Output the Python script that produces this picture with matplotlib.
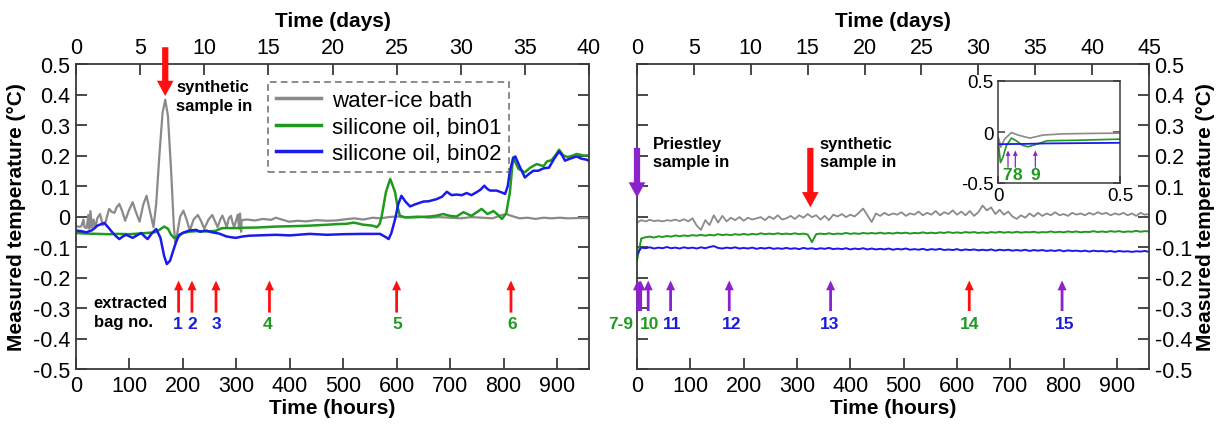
import numpy as np
import matplotlib
matplotlib.use("Agg")
import matplotlib.pyplot as plt

plt.rcParams['font.family'] = ['Liberation Sans', 'DejaVu Sans']

# ---------------- data: left panel (hours, °C) ----------------
gray_left_h = [0, 5, 10, 14, 16, 20, 23, 25, 27, 30, 33, 36, 40, 45, 50, 55, 62, 67, 72, 76, 81, 86, 92, 99,
               106, 112, 119, 126, 132, 138, 145, 150, 156, 162, 167, 172, 178, 183, 186, 190, 195, 201, 207,
               213, 220, 228, 234, 240, 248, 255, 260, 265, 270, 274, 278, 282, 286, 290, 293, 296, 300, 303,
               305, 307, 309, 310, 320, 335, 350, 365, 374, 385, 399, 415, 430, 450, 470, 487, 500, 520, 538,
               555, 570, 585, 600, 620, 640, 660, 680, 700, 720, 740, 760, 780, 795, 805, 815, 830, 845, 860,
               875, 890, 905, 920, 940, 960]
gray_left_t = [-0.030, -0.034, -0.032, -0.010, -0.035, -0.038, 0.005, -0.040, 0.018, -0.036, -0.010, -0.038,
               -0.005, 0.008, -0.028, -0.020, 0.025, 0.015, 0.012, 0.030, 0.041, 0.020, -0.014, 0.020, 0.047,
               0.015, -0.017, 0.040, 0.068, 0.020, -0.035, 0.040, 0.200, 0.340, 0.383, 0.330, 0.150, -0.030,
               -0.090, -0.050, 0.000, 0.019, -0.010, -0.046, -0.010, 0.005, -0.015, -0.040, -0.010, 0.005,
               -0.015, -0.035, -0.010, 0.003, -0.015, -0.035, -0.005, 0.002, -0.020, -0.035, -0.010, 0.006,
               -0.040, 0.010, -0.050, -0.012, -0.010, -0.013, -0.008, -0.011, -0.004, -0.010, -0.017, -0.014,
               -0.016, -0.012, -0.014, -0.013, -0.010, -0.006, -0.010, -0.004, -0.006, -0.002, 0.000, -0.002,
               0.000, -0.004, -0.002, -0.004, -0.006, -0.002, -0.004, -0.006, 0.004, 0.008, 0.002, -0.006,
               -0.004, -0.008, -0.004, -0.006, -0.004, -0.006, -0.005, -0.005]

green_left_h = [0, 20, 40, 60, 80, 100, 125, 147, 155, 165, 172, 178, 184, 192, 200, 212, 225, 245, 262, 270,
                275, 300, 312, 340, 374, 400, 437, 470, 487, 506, 520, 538, 555, 563, 568, 572, 580, 588, 593,
                597, 602, 606, 615, 625, 640, 662, 675, 687, 700, 712, 725, 740, 759, 770, 781, 790, 797, 805,
                812, 818, 828, 840, 850, 862, 875, 881, 890, 897, 904, 912, 920, 930, 937, 950, 960]
green_left_t = [-0.054, -0.056, -0.057, -0.058, -0.057, -0.058, -0.055, -0.052, -0.045, -0.033, -0.040, -0.060,
                -0.071, -0.065, -0.054, -0.050, -0.048, -0.049, -0.047, -0.040, -0.038, -0.038, -0.037, -0.036,
                -0.033, -0.032, -0.030, -0.027, -0.025, -0.024, -0.020, -0.027, -0.030, -0.035, -0.025, 0.000,
                0.080, 0.123, 0.100, 0.080, 0.030, 0.003, -0.003, -0.003, -0.002, 0.000, 0.003, 0.008, 0.002,
                0.000, 0.014, 0.002, 0.025, 0.008, 0.018, 0.005, -0.008, 0.010, 0.080, 0.194, 0.156, 0.145,
                0.160, 0.172, 0.165, 0.180, 0.185, 0.200, 0.219, 0.200, 0.195, 0.200, 0.205, 0.200, 0.200]

blue_left_h = [0, 10, 19, 30, 40, 53, 60, 68, 75, 81, 88, 94, 100, 106, 114, 122, 128, 134, 142, 150, 158, 165,
               170, 176, 181, 187, 193, 202, 212, 225, 232, 243, 255, 268, 281, 290, 299, 310, 324, 340, 374,
               400, 437, 470, 500, 538, 569, 580, 585, 590, 597, 603, 609, 616, 625, 635, 650, 660, 675, 685,
               694, 703, 712, 722, 731, 740, 750, 757, 764, 770, 775, 787, 795, 803, 808, 812, 818, 822, 830,
               840, 848, 856, 865, 875, 885, 895, 904, 910, 915, 925, 937, 945, 956, 960]
blue_left_t = [-0.046, -0.048, -0.052, -0.045, -0.030, -0.021, -0.035, -0.052, -0.065, -0.074, -0.065, -0.060,
               -0.065, -0.070, -0.062, -0.054, -0.065, -0.074, -0.055, -0.041, -0.070, -0.130, -0.156, -0.145,
               -0.117, -0.085, -0.060, -0.052, -0.046, -0.044, -0.050, -0.046, -0.052, -0.056, -0.065, -0.068,
               -0.070, -0.066, -0.063, -0.062, -0.060, -0.062, -0.057, -0.060, -0.058, -0.057, -0.057, -0.068,
               -0.074, -0.055, -0.010, 0.040, 0.068, 0.050, 0.033, 0.040, 0.049, 0.050, 0.057, 0.065, 0.081,
               0.070, 0.072, 0.070, 0.077, 0.070, 0.080, 0.088, 0.101, 0.090, 0.085, 0.085, 0.080, 0.074,
               0.100, 0.150, 0.190, 0.197, 0.165, 0.128, 0.140, 0.150, 0.150, 0.158, 0.160, 0.190, 0.213,
               0.200, 0.183, 0.190, 0.197, 0.190, 0.186, 0.182]

# ---------------- data: right panel (every 8 hours, °C) ----------------
gray_right_t = [-0.020, -0.012, -0.016, -0.011, -0.015, -0.013, -0.016, -0.012, -0.014, -0.010, -0.015, -0.009,
                -0.016, -0.006, -0.030, -0.044, -0.012, -0.028, 0.004, -0.020, 0.002, -0.016, -0.004, -0.012,
                -0.002, -0.014, -0.004, -0.010, -0.006, -0.002, -0.012, 0.000, -0.008, 0.004, -0.010, -0.006,
                0.002, -0.008, 0.004, -0.004, 0.008, -0.002, 0.004, -0.010, 0.002, -0.012, 0.006, 0.000, 0.008,
                -0.002, 0.006, 0.000, 0.012, 0.026, 0.004, -0.018, 0.010, 0.002, 0.012, 0.004, 0.010, 0.006,
                0.014, 0.002, 0.010, 0.006, 0.016, 0.004, 0.012, 0.006, 0.018, 0.004, 0.014, 0.008, 0.020,
                0.006, 0.016, 0.004, 0.018, 0.002, 0.014, 0.036, 0.020, 0.030, 0.008, 0.022, 0.006, 0.016,
                0.000, -0.008, 0.004, -0.004, 0.010, 0.000, 0.012, 0.002, 0.010, 0.004, 0.014, 0.004, 0.008,
                0.002, 0.012, 0.006, 0.010, 0.004, 0.012, 0.006, 0.014, 0.008, 0.012, 0.004, 0.010, 0.006,
                0.012, 0.004, 0.010, 0.002, 0.012, 0.006, 0.008]
green_right_t = [-0.145, -0.072, -0.068, -0.066, -0.069, -0.065, -0.067, -0.064, -0.066, -0.062, -0.065, -0.062,
                 -0.064, -0.061, -0.063, -0.060, -0.063, -0.060, -0.062, -0.058, -0.061, -0.059, -0.061, -0.058,
                 -0.060, -0.057, -0.060, -0.057, -0.059, -0.055, -0.058, -0.056, -0.058, -0.055, -0.058, -0.056,
                 -0.058, -0.055, -0.058, -0.056, -0.059, -0.084, -0.058, -0.056, -0.058, -0.055, -0.058, -0.056,
                 -0.057, -0.054, -0.057, -0.055, -0.057, -0.054, -0.056, -0.054, -0.056, -0.053, -0.056, -0.054,
                 -0.056, -0.053, -0.055, -0.053, -0.056, -0.054, -0.055, -0.052, -0.055, -0.053, -0.055, -0.052,
                 -0.054, -0.051, -0.054, -0.052, -0.054, -0.051, -0.053, -0.051, -0.054, -0.052, -0.054, -0.051,
                 -0.053, -0.050, -0.053, -0.051, -0.053, -0.050, -0.053, -0.051, -0.052, -0.050, -0.053, -0.051,
                 -0.052, -0.049, -0.052, -0.050, -0.052, -0.049, -0.051, -0.049, -0.052, -0.050, -0.051, -0.048,
                 -0.051, -0.049, -0.051, -0.048, -0.050, -0.048, -0.051, -0.049, -0.050, -0.047, -0.050, -0.048,
                 -0.049]
blue_right_t = [-0.125, -0.102, -0.104, -0.101, -0.105, -0.102, -0.104, -0.100, -0.104, -0.102, -0.105, -0.101,
                -0.104, -0.102, -0.105, -0.101, -0.104, -0.100, -0.097, -0.103, -0.105, -0.102, -0.104, -0.101,
                -0.105, -0.103, -0.105, -0.102, -0.106, -0.103, -0.105, -0.102, -0.106, -0.104, -0.106, -0.103,
                -0.106, -0.104, -0.107, -0.103, -0.106, -0.104, -0.107, -0.104, -0.106, -0.103, -0.107, -0.105,
                -0.107, -0.104, -0.108, -0.105, -0.107, -0.104, -0.108, -0.105, -0.108, -0.106, -0.108, -0.105,
                -0.109, -0.106, -0.108, -0.105, -0.109, -0.107, -0.109, -0.106, -0.110, -0.107, -0.109, -0.106,
                -0.110, -0.108, -0.110, -0.107, -0.111, -0.108, -0.110, -0.108, -0.111, -0.109, -0.111, -0.108,
                -0.112, -0.109, -0.111, -0.109, -0.112, -0.110, -0.112, -0.109, -0.113, -0.110, -0.112, -0.110,
                -0.113, -0.111, -0.113, -0.110, -0.114, -0.111, -0.113, -0.112, -0.114, -0.112, -0.115, -0.112,
                -0.114, -0.113, -0.115, -0.113, -0.116, -0.113, -0.115, -0.114, -0.116, -0.114, -0.115, -0.113,
                -0.116]

# ---------------- data: inset (days, °C) ----------------
inset_gray_d = [0.0, 0.004, 0.011, 0.027, 0.055, 0.082, 0.13, 0.185, 0.27, 0.38, 0.5]
inset_gray_t = [-0.05, -0.07, -0.15, -0.07, -0.005, -0.03, -0.06, -0.03, -0.018, -0.014, -0.011]
inset_green_d = [0.0, 0.01, 0.02, 0.034, 0.055, 0.075, 0.10, 0.123, 0.158, 0.20, 0.34, 0.5]
inset_green_t = [-0.07, -0.30, -0.25, -0.135, -0.06, -0.086, -0.13, -0.145, -0.12, -0.086, -0.08, -0.07]
inset_blue_d = [0.0, 0.05, 0.1, 0.2, 0.3, 0.4, 0.5]
inset_blue_t = [-0.12, -0.118, -0.117, -0.112, -0.110, -0.108, -0.106]
inset_arrow_d = [0.041, 0.071, 0.153]
inset_arrow_lbl = ['7', '8', '9']
inset_lbl_d = [0.036, 0.078, 0.153]

# ---------------- annotations ----------------
left_bag_h = [192, 217, 262, 362, 600, 814]
left_bag_lbl = ['1', '2', '3', '4', '5', '6']
left_bag_col = ['blue', 'blue', 'blue', 'green', 'green', 'green']
left_bag_lbl_h = [190, 217, 263, 358, 601, 816]

right_arrow_h = [1, 4, 7, 21, 63, 173, 363, 623, 797]
right_arrow_col = ['purple'] * 7 + ['red', 'purple']
right_lbl = ['7-9', '10', '11', '12', '13', '14', '15']
right_lbl_h = [-30, 23, 66, 177, 361, 623, 802]
right_lbl_col = ['green', 'green', 'blue', 'blue', 'blue', 'green', 'blue']

hour_ticks = list(range(0, 901, 100))
left_day_ticks = list(range(0, 41, 5))
right_day_ticks = list(range(0, 46, 5))
y_ticks = [-0.5, -0.4, -0.3, -0.2, -0.1, 0, 0.1, 0.2, 0.3, 0.4, 0.5]
y_tick_lbl = ['-0.5', '-0.4', '-0.3', '-0.2', '-0.1', '0', '0.1', '0.2', '0.3', '0.4', '0.5']

# ---------------- styles ----------------
C_GRAY = '#8a8a8a'
C_GREEN = '#1f9a1f'
C_BLUE = '#1a1aef'
C_RED = '#ff1010'
C_PURPLE = '#8c22cc'
TXT = {'green': '#1f9a1f', 'blue': '#1c1cdc', 'red': C_RED, 'purple': C_PURPLE}
SPINE = '#3a3a3a'
TICK_FS = 15.5
LAB_FS = 15

fig = plt.figure(figsize=(12.17, 4.27), dpi=100)
axL = fig.add_axes([76 / 1217, 1 - 370 / 427, 513 / 1217, 305 / 427])
axR = fig.add_axes([637 / 1217, 1 - 370 / 427, 512 / 1217, 305 / 427])


def style_main(ax):
    ax.set_xlim(0, 960)
    ax.set_ylim(-0.5, 0.5)
    ax.set_xticks(hour_ticks)
    ax.set_yticks(y_ticks)
    ax.set_yticklabels(y_tick_lbl)
    for s in ax.spines.values():
        s.set_color(SPINE)
        s.set_linewidth(1.3)
    ax.tick_params(direction='in', length=8, width=1.3, color=SPINE, labelsize=TICK_FS,
                   left=True, right=True, pad=4)
    ax.set_xlabel('Time (hours)', fontsize=LAB_FS, fontweight='bold', labelpad=2)


def add_days(ax, ticks, xmax):
    t = ax.twiny()
    t.set_xlim(0, xmax)
    t.set_xticks(ticks)
    t.tick_params(direction='in', length=8, width=1.3, color=SPINE, labelsize=TICK_FS, pad=4.5)
    for s in t.spines.values():
        s.set_visible(False)
    t.set_xlabel('Time (days)', fontsize=LAB_FS, fontweight='bold', labelpad=8)
    return t


def arrow(ax, x, y0, y1, color, big=False):
    if big:
        st = 'simple,head_length=11,head_width=12,tail_width=4.5'
    else:
        st = 'simple,head_length=7,head_width=6.5,tail_width=2'
    ax.annotate('', xy=(x, y1), xytext=(x, y0), annotation_clip=False,
                arrowprops=dict(arrowstyle=st, mutation_scale=1, color=color, lw=0,
                                shrinkA=0, shrinkB=0))


# ---------- left panel ----------
style_main(axL)
add_days(axL, left_day_ticks, 40)
axL.plot(gray_left_h, gray_left_t, color=C_GRAY, lw=1.6, label='water-ice bath')
axL.plot(green_left_h, green_left_t, color=C_GREEN, lw=1.8, label='silicone oil, bin01')
axL.plot(blue_left_h, blue_left_t, color=C_BLUE, lw=1.8, label='silicone oil, bin02')
axL.set_ylabel('Measured temperature (°C)', fontsize=LAB_FS, fontweight='bold', labelpad=5)

leg = axL.legend(loc='upper left', bbox_to_anchor=(0.375, 0.94), fontsize=16, frameon=True,
                 fancybox=False, handlelength=2.0, handletextpad=0.5, labelspacing=0.25,
                 borderpad=0.35, borderaxespad=0)
leg.get_frame().set_edgecolor('#555555')
leg.get_frame().set_linestyle((0, (4, 2.5)))
leg.get_frame().set_linewidth(1.2)
for ln in leg.get_lines():
    ln.set_linewidth(2.5)

arrow(axL, 167, 0.555, 0.395, C_RED, big=True)
axL.text(188, 0.395, 'synthetic\nsample in', fontsize=12, fontweight='bold', va='center', ha='left',
         linespacing=1.3)
for h in left_bag_h:
    arrow(axL, h, -0.315, -0.21, C_RED)
for h, l, c in zip(left_bag_lbl_h, left_bag_lbl, left_bag_col):
    axL.text(h, -0.35, l, color=TXT[c], fontsize=12.5, fontweight='bold', ha='center', va='center')
axL.text(33, -0.312, 'extracted\nbag no.', fontsize=12, fontweight='bold', ha='left', va='center',
         linespacing=1.35)

# ---------- right panel ----------
style_main(axR)
axR.tick_params(labelleft=False, labelright=True)
add_days(axR, right_day_ticks, 45)
axR.plot(np.linspace(0, 960, len(gray_right_t)), gray_right_t, color=C_GRAY, lw=1.3)
axR.plot(np.linspace(0, 960, len(green_right_t)), green_right_t, color=C_GREEN, lw=1.4)
axR.plot(np.linspace(0, 960, len(blue_right_t)), blue_right_t, color=C_BLUE, lw=1.4)
axR.yaxis.set_label_position('right')
axR.set_ylabel('Measured temperature (°C)', fontsize=LAB_FS, fontweight='bold', labelpad=3)

arrow(axR, 0, 0.225, 0.062, C_PURPLE, big=True)
axR.text(30, 0.21, 'Priestley\nsample in', fontsize=12, fontweight='bold', va='center', ha='left',
         linespacing=1.3)
arrow(axR, 325, 0.225, 0.03, C_RED, big=True)
axR.text(343, 0.21, 'synthetic\nsample in', fontsize=12, fontweight='bold', va='center', ha='left',
         linespacing=1.3)
for h, c in zip(right_arrow_h, right_arrow_col):
    arrow(axR, h, -0.31, -0.21, TXT[c])
for h, l, c in zip(right_lbl_h, right_lbl, right_lbl_col):
    axR.text(h, -0.35, l, color=TXT[c], fontsize=12.5, fontweight='bold', ha='center', va='center')

# ---------- inset ----------
axI = fig.add_axes([998 / 1217, 1 - 184 / 427, 122 / 1217, 102 / 427])
axI.set_xlim(0, 0.5)
axI.set_ylim(-0.5, 0.5)
axI.set_xticks([0, 0.5])
axI.set_xticklabels(['0', '0.5'])
axI.set_yticks([-0.5, 0, 0.5])
axI.set_yticklabels(['-0.5', '0', '0.5'])
for s in axI.spines.values():
    s.set_color(SPINE)
    s.set_linewidth(1.1)
axI.tick_params(direction='in', length=5, width=1.1, color=SPINE, labelsize=13.5, right=True, pad=3)
axI.plot(inset_gray_d, inset_gray_t, color=C_GRAY, lw=1.2)
axI.plot(inset_green_d, inset_green_t, color=C_GREEN, lw=1.2)
axI.plot(inset_blue_d, inset_blue_t, color=C_BLUE, lw=1.3)
for d in inset_arrow_d:
    axI.annotate('', xy=(d, -0.18), xytext=(d, -0.35),
                 arrowprops=dict(arrowstyle='simple,head_length=4,head_width=3.5,tail_width=0.9',
                                 mutation_scale=1, color=C_PURPLE, lw=0, shrinkA=0, shrinkB=0))
for d, l in zip(inset_lbl_d, inset_arrow_lbl):
    axI.text(d, -0.42, l, color=TXT['green'], fontsize=12.5, fontweight='bold', ha='center', va='center')

fig.savefig('out.png', dpi=100)
